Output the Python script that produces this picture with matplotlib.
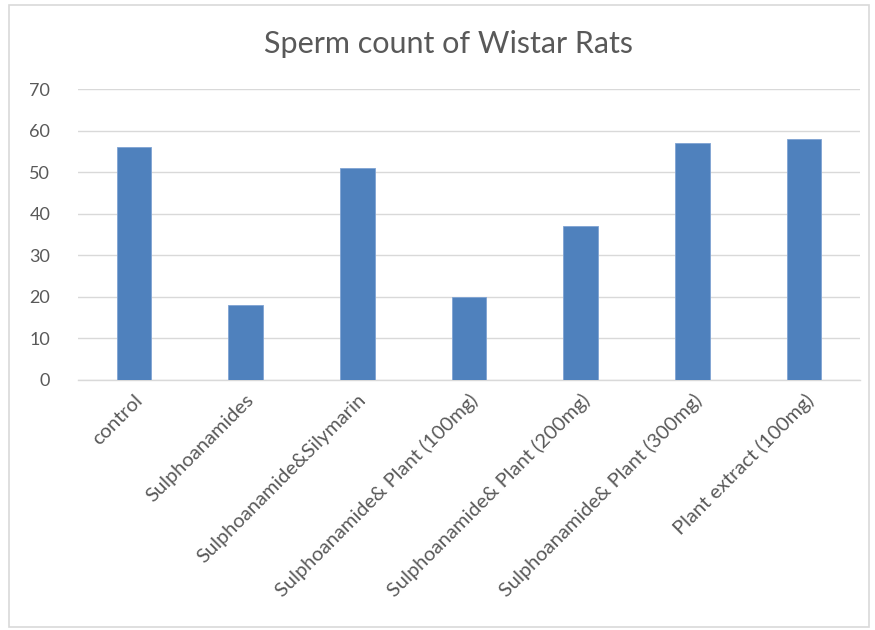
import matplotlib
matplotlib.use("Agg")
import matplotlib.pyplot as plt
from matplotlib.patches import Rectangle

categories = ["control", "Sulphoanamides", "Sulphoanamide&Silymarin",
              "Sulphoanamide& Plant (100mg)", "Sulphoanamide& Plant (200mg)",
              "Sulphoanamide& Plant (300mg)", "Plant extract (100mg)"]
values = [56, 18, 51, 20, 37, 57, 58]
yticks = [0, 10, 20, 30, 40, 50, 60, 70]

plt.rcParams['font.family'] = ['Lato', 'DejaVu Sans']
fig = plt.figure(figsize=(8.75, 6.3), dpi=100)
fig.patch.set_facecolor('white')
fig.patches.append(Rectangle((9/875, 3/630), 860/875, 622/630, transform=fig.transFigure,
                             fill=False, edgecolor='#d9d9d9', linewidth=1.2))

ax = fig.add_axes([78/875, (630-380)/630, 782/875, (380-89)/630])
x = list(range(len(categories)))
ax.bar(x, values, width=0.31, color='#4F81BD', edgecolor='#7fa3d3', linewidth=0.6, zorder=3)
ax.set_xlim(-0.5, len(categories) - 0.5)
ax.set_ylim(0, 70)
ax.set_yticks(yticks)
ax.set_yticklabels([str(v) for v in yticks], fontsize=13, color='#595959')
ax.yaxis.grid(True, color='#d9d9d9', linewidth=1.0, zorder=0)
ax.set_axisbelow(True)
for s in ['top', 'right', 'left']:
    ax.spines[s].set_visible(False)
ax.spines['bottom'].set_color('#d9d9d9')
ax.spines['bottom'].set_linewidth(1.0)
ax.tick_params(axis='both', length=0)
ax.tick_params(axis='y', pad=20)
ax.tick_params(axis='x', pad=8)
ax.set_xticks(x)
ax.set_xticklabels(categories, rotation=45, ha='right', rotation_mode='anchor',
                   fontsize=14.5, color='#595959')
fig.text(448/875, 1 - 44/630, "Sperm count of Wistar Rats", ha='center', va='center',
         fontsize=22, color='#595959')
fig.savefig("out.png", dpi=100)
